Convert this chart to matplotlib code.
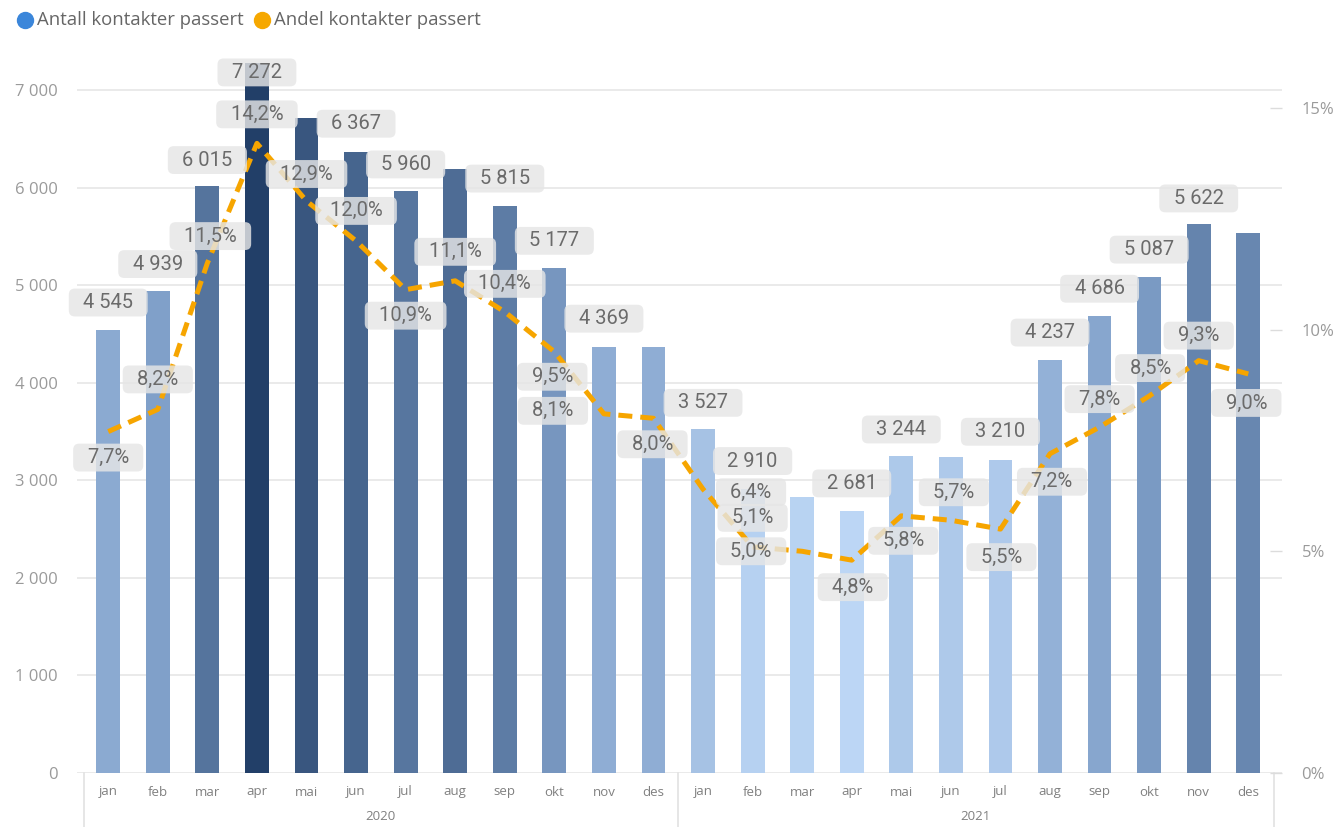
import matplotlib
matplotlib.use('Agg')
import matplotlib.pyplot as plt
import matplotlib.transforms as mtransforms
from matplotlib.colors import LinearSegmentedColormap, Normalize
from matplotlib.lines import Line2D

# ---------------- data ----------------
months = ['jan', 'feb', 'mar', 'apr', 'mai', 'jun', 'jul', 'aug', 'sep', 'okt', 'nov', 'des']
years = ['2020', '2021']
antall = [4545, 4939, 6015, 7272, 6715, 6367, 5960, 6195, 5815, 5177, 4369, 4370,
          3527, 2910, 2830, 2681, 3244, 3235, 3210, 4237, 4686, 5087, 5622, 5535]
antall_shown = [True, True, True, True, False, True, True, False, True, True, True, False,
                True, True, False, True, True, False, True, True, True, True, True, False]
andel = [7.7, 8.2, 11.5, 14.2, 12.9, 12.0, 10.9, 11.1, 10.4, 9.5, 8.1, 8.0,
         6.4, 5.1, 5.0, 4.8, 5.8, 5.7, 5.5, 7.2, 7.8, 8.5, 9.3, 9.0]
legend_labels = ['Antall kontakter passert', 'Andel kontakter passert']
left_ticks = [0, 1000, 2000, 3000, 4000, 5000, 6000, 7000]
right_ticks = [0, 5, 10, 15]

# ---------------- layout (label offsets in pixels) ----------------
count_dy = [27, 27, 26, -9, 27, 28, 27, 27, 27, 27, 28, 27,
            26, 28, 27, 28, 27, 27, 28, 27, 27, 27, 26, 27]
pct_off = [(0, -26), (0, 30), (3, 27), (0, 29), (0, 27), (0, 30), (0, -26), (0, 29),
           (0, 28), (-2, -25), (-51, 3), (-1, -26), (48, -3), (0, 29), (-51, 0), (1, -27),
           (2, -25), (3, 28), (1, -28), (2, -28), (0, 28), (1, 28), (0, 25), (-2, -29)]

W, H = 1340, 827
fig = plt.figure(figsize=(W / 100, H / 100), dpi=100)
fig.patch.set_facecolor('white')
ax_l, ax_r, ax_t, ax_b = 77, 1282, 56, 773
ax = fig.add_axes([ax_l / W, 1 - ax_b / H, (ax_r - ax_l) / W, (ax_b - ax_t) / H])
ax2 = ax.twinx()

n = len(antall)
x = list(range(n))
ax.set_xlim(-0.63, 23.68)
ax.set_ylim(0, 7348)
ax2.set_ylim(0, 16.17)

cmap = LinearSegmentedColormap.from_list('pbi', ['#BCD6F5', '#7F9FC8', '#223F68'])
norm = Normalize(min(antall), max(antall))
ax.bar(x, antall, width=0.48, color=[cmap(norm(v)) for v in antall], zorder=2)

for a in (ax, ax2):
    for s in a.spines.values():
        s.set_visible(False)

ax.set_yticks(left_ticks)
ax.set_yticklabels([f"{t:,}".replace(',', ' ') for t in left_ticks])
ax.yaxis.grid(True, color='#E8E8E8', lw=1.3, zorder=0)
ax.set_axisbelow(True)
ax.tick_params(axis='y', length=0, pad=14, labelsize=12, labelcolor='#9A9A9A')
ax.set_xticks([])
for lab in ax.get_yticklabels():
    lab.set_fontfamily('Open Sans')

ax2.set_yticks(right_ticks)
ax2.set_yticklabels([f"{t}%" for t in right_ticks])
ax2.tick_params(axis='y', direction='in', length=9, width=1, color='#DCDCDC',
                pad=14, labelsize=12, labelcolor='#9A9A9A')
for lab in ax2.get_yticklabels():
    lab.set_fontfamily('Open Sans')

# line
ax2.plot(x, andel, color='#F6A500', lw=3.6, linestyle=(0, (2.8, 1.6)),
         dash_capstyle='butt', solid_joinstyle='round', zorder=3)
ax2.set_zorder(ax.get_zorder() + 1)
ax2.patch.set_visible(False)

box = dict(boxstyle='round,pad=0.22,rounding_size=0.3', fc='#E6E6E6', ec='none', alpha=0.82)
lab_font = dict(family='Roboto', fontsize=14.5, color='#6B6B6B')

for i, v in enumerate(antall):
    if not antall_shown[i]:
        continue
    ax2.annotate('  ' + f"{v:,}".replace(',', ' ') + '  ', xy=(i, v / 7348 * 16.17),
                 xytext=(0, count_dy[i]), textcoords='offset pixels',
                 ha='center', va='center', bbox=box, zorder=5, annotation_clip=False,
                 **lab_font)

for i, v in enumerate(andel):
    dx, dy = pct_off[i]
    ax2.annotate('  ' + f"{v:.1f}%".replace('.', ',') + '  ', xy=(i, v),
                 xytext=(dx, dy), textcoords='offset pixels',
                 ha='center', va='center', bbox=box, zorder=6, annotation_clip=False,
                 **lab_font)

# x axis categories
trans = mtransforms.blended_transform_factory(ax.transData, ax.transAxes)
for i in range(n):
    ax.annotate(months[i % 12], xy=(i, 0), xycoords=trans, xytext=(0, -19),
                textcoords='offset pixels', ha='center', va='center',
                fontsize=9.5, color='#808080', family='Open Sans', annotation_clip=False)
for k, yr in enumerate(years):
    ax.annotate(yr, xy=(k * 12 + 5.5, 0), xycoords=trans, xytext=(0, -43),
                textcoords='offset pixels', ha='center', va='center',
                fontsize=9.5, color='#808080', family='Open Sans', annotation_clip=False)
sep_h = (H - ax_b) / (ax_b - ax_t)
for xs in (-0.48, 11.5, 23.52):
    ax.plot([xs, xs], [0, -sep_h], transform=trans, color='#E2E2E2', lw=1.2, clip_on=False)

# legend
legend_items = [(25, '#3B86DA', legend_labels[0], 37), (262, '#F6A800', legend_labels[1], 274)]
for cx, col, txt, tx in legend_items:
    fig.add_artist(Line2D([cx / W], [1 - 20 / H], marker='o', markersize=11.5, color=col,
                          lw=0, transform=fig.transFigure))
    fig.text(tx / W, 1 - 20 / H, txt, ha='left', va='center', fontsize=13.3,
             color='#666666', family='Open Sans')

fig.savefig('out.png', dpi=100, facecolor='white')
